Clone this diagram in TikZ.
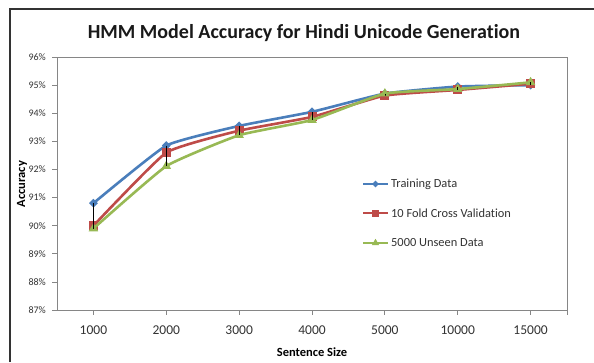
\documentclass[tikz,border=0pt]{standalone}
\usepackage{fontspec}
\setmainfont{Carlito}[Ligatures={NoCommon}]
\usepackage{tikz}
\usetikzlibrary{shapes.geometric}

\definecolor{trainblue}{HTML}{4A7EBB}
\definecolor{foldred}{HTML}{BE4B48}
\definecolor{unseengreen}{HTML}{98B954}
\definecolor{axisgray}{HTML}{868686}
\definecolor{textgray}{HTML}{333333}

\tikzset{
  series/.style = {line width=2.6pt, line join=round},
  diamark/.style = {diamond, fill=trainblue, inner sep=0pt, minimum size=9pt},
  sqmark/.style = {rectangle, fill=foldred, inner sep=0pt, minimum size=9pt},
  trimark/.style = {regular polygon, regular polygon sides=3, fill=unseengreen, inner sep=0pt, minimum size=11pt},
  ticklabel/.style = {text=textgray, inner sep=0pt}
}

\begin{document}
\begin{tikzpicture}[x=1pt, y=1pt]

\useasboundingbox (0,0) rectangle (594,362);
\fill[white] (0,0) rectangle (594,362);
\draw[line width=2pt, black!80] (9.5,0) -- (9.5,352.5) -- (594,352.5);

\node[font=\fontsize{20}{22}\selectfont\bfseries, text=black!90] (title) at (304,329) {HMM Model Accuracy for Hindi Unicode Generation};
\node[font=\fontsize{12.5}{14}\selectfont\bfseries, rotate=90] (ytitle) at (22,178) {Accuracy};
\node[font=\fontsize{12.5}{14}\selectfont\bfseries] (xtitle) at (312,10) {Sentence Size};

\begin{scope}[shift={(93.43,-2393.6)}, x=72.86pt, y=28.11pt]

\draw[axisgray, line width=0.8pt] (-0.5,87) rectangle (6.5,96);
\foreach \v in {87,...,96}{
  \draw[axisgray, line width=0.8pt] (-0.5,\v) -- ++(-5pt,0pt);
  \node[ticklabel, anchor=east, font=\fontsize{10}{12}\selectfont] (yl\v) at ([xshift=-11pt]-0.5,\v) {\v\%};
}
\foreach \k/\n in {0/1000,1/2000,2/3000,3/4000,4/5000,5/10000,6/15000}{
  \draw[axisgray, line width=0.8pt] (\k,87) -- ++(0pt,-5pt);
  \node[ticklabel, font=\fontsize{13.5}{15}\selectfont] (xl\k) at ([yshift=-20pt]\k,87) {\n};
}
\draw[axisgray, line width=0.8pt] (6.5,87) -- ++(0pt,-5pt);

\foreach \k/\v in {1/90.8,2/92.85,3/93.55,4/94.05,5/94.7,6/94.95,7/95.0}
  \coordinate (t\k) at (\k-1,\v);
\foreach \k/\v in {1/90.0,2/92.6,3/93.38,4/93.87,5/94.63,6/94.83,7/95.05}
  \coordinate (f\k) at (\k-1,\v);
\foreach \k/\v in {1/89.9,2/92.12,3/93.22,4/93.76,5/94.7,6/94.86,7/95.1}
  \coordinate (u\k) at (\k-1,\v);

\draw[series, trainblue] plot[smooth, tension=0.25] coordinates {(t1) (t2) (t3) (t4) (t5) (t6) (t7)};
\foreach \k in {1,...,7}
  \node[diamark] (mt\k) at (t\k) {};

\draw[series, foldred] plot[smooth, tension=0.25] coordinates {(f1) (f2) (f3) (f4) (f5) (f6) (f7)};
\foreach \k in {1,...,7}
  \node[sqmark] (mf\k) at (f\k) {};

\draw[series, unseengreen] plot[smooth, tension=0.25] coordinates {(u1) (u2) (u3) (u4) (u5) (u6) (u7)};
\foreach \k in {1,...,7}
  \node[trimark] (mu\k) at (u\k) {};

\foreach \k in {1,...,7}
  \draw[black, line width=0.7pt] (t\k) -- (f\k) -- (u\k);

\end{scope}

\draw[series, trainblue] (363,178) -- (388,178);
\node[diamark, minimum size=7pt] (lt) at (375.5,178) {};
\node[ticklabel, anchor=west, font=\fontsize{12.4}{14}\selectfont] (legt) at (391,178) {Training Data};

\draw[series, foldred] (363,149) -- (388,149);
\node[sqmark, minimum size=7pt] (lf) at (375.5,149) {};
\node[ticklabel, anchor=west, font=\fontsize{12.4}{14}\selectfont] (legf) at (391,149) {10 Fold Cross Validation};

\draw[series, unseengreen] (363,119) -- (388,119);
\node[trimark, minimum size=8.5pt] (lu) at (375.5,119) {};
\node[ticklabel, anchor=west, font=\fontsize{12.4}{14}\selectfont] (legu) at (391,119) {5000 Unseen Data};

\end{tikzpicture}
\end{document}
